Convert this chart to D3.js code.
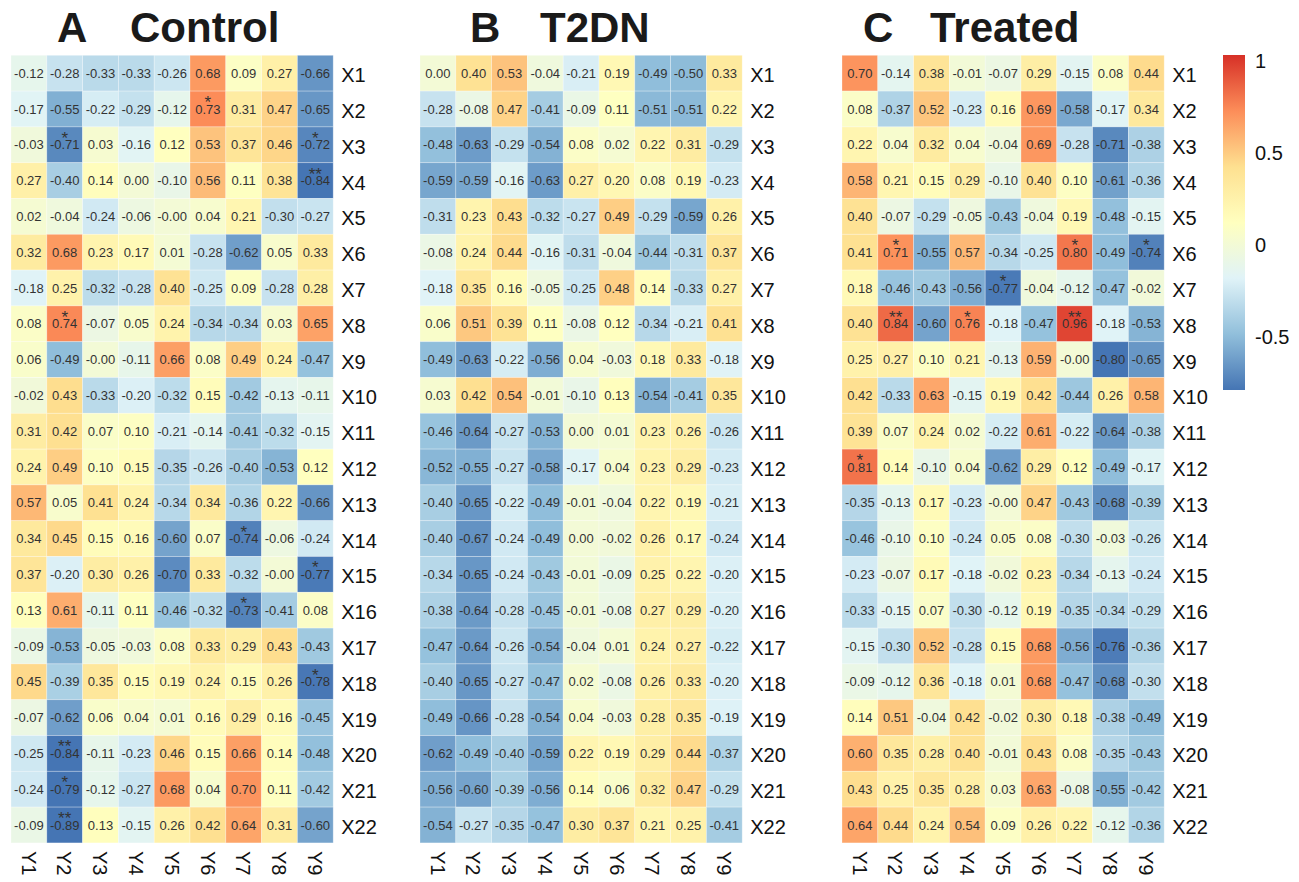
<!DOCTYPE html>
<html>
<head>
<meta charset="utf-8">
<script src="https://cdn.jsdelivr.net/npm/d3@7"></script>
<style>
  body { margin: 0; background: #fff; }
  text { font-family: "Liberation Sans", Arial, Helvetica, sans-serif; }
</style>
</head>
<body>
<svg id="chart" width="1299" height="882"></svg>
<script>
// Row and column labels of each correlation matrix
const rowLabels = ["X1","X2","X3","X4","X5","X6","X7","X8","X9","X10","X11","X12","X13","X14","X15","X16","X17","X18","X19","X20","X21","X22"];
const colLabels = ["Y1","Y2","Y3","Y4","Y5","Y6","Y7","Y8","Y9"];

// Correlation coefficients, one row per X variable (Y1..Y9)
const controlValues = [
  [-0.12,-0.28,-0.33,-0.33,-0.26, 0.68, 0.09, 0.27,-0.66],
  [-0.17,-0.55,-0.22,-0.29,-0.12, 0.73, 0.31, 0.47,-0.65],
  [-0.03,-0.71, 0.03,-0.16, 0.12, 0.53, 0.37, 0.46,-0.72],
  [ 0.27,-0.40, 0.14, 0.00,-0.10, 0.56, 0.11, 0.38,-0.84],
  [ 0.02,-0.04,-0.24,-0.06,-0.00, 0.04, 0.21,-0.30,-0.27],
  [ 0.32, 0.68, 0.23, 0.17, 0.01,-0.28,-0.62, 0.05, 0.33],
  [-0.18, 0.25,-0.32,-0.28, 0.40,-0.25, 0.09,-0.28, 0.28],
  [ 0.08, 0.74,-0.07, 0.05, 0.24,-0.34,-0.34, 0.03, 0.65],
  [ 0.06,-0.49,-0.00,-0.11, 0.66, 0.08, 0.49, 0.24,-0.47],
  [-0.02, 0.43,-0.33,-0.20,-0.32, 0.15,-0.42,-0.13,-0.11],
  [ 0.31, 0.42, 0.07, 0.10,-0.21,-0.14,-0.41,-0.32,-0.15],
  [ 0.24, 0.49, 0.10, 0.15,-0.35,-0.26,-0.40,-0.53, 0.12],
  [ 0.57, 0.05, 0.41, 0.24,-0.34, 0.34,-0.36, 0.22,-0.66],
  [ 0.34, 0.45, 0.15, 0.16,-0.60, 0.07,-0.74,-0.06,-0.24],
  [ 0.37,-0.20, 0.30, 0.26,-0.70, 0.33,-0.32,-0.00,-0.77],
  [ 0.13, 0.61,-0.11, 0.11,-0.46,-0.32,-0.73,-0.41, 0.08],
  [-0.09,-0.53,-0.05,-0.03, 0.08, 0.33, 0.29, 0.43,-0.43],
  [ 0.45,-0.39, 0.35, 0.15, 0.19, 0.24, 0.15, 0.26,-0.78],
  [-0.07,-0.62, 0.06, 0.04, 0.01, 0.16, 0.29, 0.16,-0.45],
  [-0.25,-0.84,-0.11,-0.23, 0.46, 0.15, 0.66, 0.14,-0.48],
  [-0.24,-0.79,-0.12,-0.27, 0.68, 0.04, 0.70, 0.11,-0.42],
  [-0.09,-0.89, 0.13,-0.15, 0.26, 0.42, 0.64, 0.31,-0.60]
];

const t2dnValues = [
  [ 0.00, 0.40, 0.53,-0.04,-0.21, 0.19,-0.49,-0.50, 0.33],
  [-0.28,-0.08, 0.47,-0.41,-0.09, 0.11,-0.51,-0.51, 0.22],
  [-0.48,-0.63,-0.29,-0.54, 0.08, 0.02, 0.22, 0.31,-0.29],
  [-0.59,-0.59,-0.16,-0.63, 0.27, 0.20, 0.08, 0.19,-0.23],
  [-0.31, 0.23, 0.43,-0.32,-0.27, 0.49,-0.29,-0.59, 0.26],
  [-0.08, 0.24, 0.44,-0.16,-0.31,-0.04,-0.44,-0.31, 0.37],
  [-0.18, 0.35, 0.16,-0.05,-0.25, 0.48, 0.14,-0.33, 0.27],
  [ 0.06, 0.51, 0.39, 0.11,-0.08, 0.12,-0.34,-0.21, 0.41],
  [-0.49,-0.63,-0.22,-0.56, 0.04,-0.03, 0.18, 0.33,-0.18],
  [ 0.03, 0.42, 0.54,-0.01,-0.10, 0.13,-0.54,-0.41, 0.35],
  [-0.46,-0.64,-0.27,-0.53, 0.00, 0.01, 0.23, 0.26,-0.26],
  [-0.52,-0.55,-0.27,-0.58,-0.17, 0.04, 0.23, 0.29,-0.23],
  [-0.40,-0.65,-0.22,-0.49,-0.01,-0.04, 0.22, 0.19,-0.21],
  [-0.40,-0.67,-0.24,-0.49, 0.00,-0.02, 0.26, 0.17,-0.24],
  [-0.34,-0.65,-0.24,-0.43,-0.01,-0.09, 0.25, 0.22,-0.20],
  [-0.38,-0.64,-0.28,-0.45,-0.01,-0.08, 0.27, 0.29,-0.20],
  [-0.47,-0.64,-0.26,-0.54,-0.04, 0.01, 0.24, 0.27,-0.22],
  [-0.40,-0.65,-0.27,-0.47, 0.02,-0.08, 0.26, 0.33,-0.20],
  [-0.49,-0.66,-0.28,-0.54, 0.04,-0.03, 0.28, 0.35,-0.19],
  [-0.62,-0.49,-0.40,-0.59, 0.22, 0.19, 0.29, 0.44,-0.37],
  [-0.56,-0.60,-0.39,-0.56, 0.14, 0.06, 0.32, 0.47,-0.29],
  [-0.54,-0.27,-0.35,-0.47, 0.30, 0.37, 0.21, 0.25,-0.41]
];

const treatedValues = [
  [ 0.70,-0.14, 0.38,-0.01,-0.07, 0.29,-0.15, 0.08, 0.44],
  [ 0.08,-0.37, 0.52,-0.23, 0.16, 0.69,-0.58,-0.17, 0.34],
  [ 0.22, 0.04, 0.32, 0.04,-0.04, 0.69,-0.28,-0.71,-0.38],
  [ 0.58, 0.21, 0.15, 0.29,-0.10, 0.40, 0.10,-0.61,-0.36],
  [ 0.40,-0.07,-0.29,-0.05,-0.43,-0.04, 0.19,-0.48,-0.15],
  [ 0.41, 0.71,-0.55, 0.57,-0.34,-0.25, 0.80,-0.49,-0.74],
  [ 0.18,-0.46,-0.43,-0.56,-0.77,-0.04,-0.12,-0.47,-0.02],
  [ 0.40, 0.84,-0.60, 0.76,-0.18,-0.47, 0.96,-0.18,-0.53],
  [ 0.25, 0.27, 0.10, 0.21,-0.13, 0.59,-0.00,-0.80,-0.65],
  [ 0.42,-0.33, 0.63,-0.15, 0.19, 0.42,-0.44, 0.26, 0.58],
  [ 0.39, 0.07, 0.24, 0.02,-0.22, 0.61,-0.22,-0.64,-0.38],
  [ 0.81, 0.14,-0.10, 0.04,-0.62, 0.29, 0.12,-0.49,-0.17],
  [-0.35,-0.13, 0.17,-0.23,-0.00, 0.47,-0.43,-0.68,-0.39],
  [-0.46,-0.10, 0.10,-0.24, 0.05, 0.08,-0.30,-0.03,-0.26],
  [-0.23,-0.07, 0.17,-0.18,-0.02, 0.23,-0.34,-0.13,-0.24],
  [-0.33,-0.15, 0.07,-0.30,-0.12, 0.19,-0.35,-0.34,-0.29],
  [-0.15,-0.30, 0.52,-0.28, 0.15, 0.68,-0.56,-0.76,-0.36],
  [-0.09,-0.12, 0.36,-0.18, 0.01, 0.68,-0.47,-0.68,-0.30],
  [ 0.14, 0.51,-0.04, 0.42,-0.02, 0.30, 0.18,-0.38,-0.49],
  [ 0.60, 0.35, 0.28, 0.40,-0.01, 0.43, 0.08,-0.35,-0.43],
  [ 0.43, 0.25, 0.35, 0.28, 0.03, 0.63,-0.08,-0.55,-0.42],
  [ 0.64, 0.44, 0.24, 0.54, 0.09, 0.26, 0.22,-0.12,-0.36]
];

// Significance marks: [row, column, mark]
const controlStars = [
  ["X2","Y6","*"], ["X3","Y2","*"], ["X3","Y9","*"], ["X4","Y9","**"],
  ["X8","Y2","*"], ["X14","Y7","*"], ["X15","Y9","*"], ["X16","Y7","*"],
  ["X18","Y9","*"], ["X20","Y2","**"], ["X21","Y2","*"], ["X22","Y2","**"]
];
const t2dnStars = [];
const treatedStars = [
  ["X6","Y2","*"], ["X6","Y7","*"], ["X6","Y9","*"], ["X7","Y5","*"],
  ["X8","Y2","**"], ["X8","Y4","*"], ["X8","Y7","**"], ["X12","Y1","*"]
];

// Colour bar limits and its tick labels
const colorLimits = [-0.79, 1.03];
const colorbarTicks = [1, 0.5, 0, -0.5];
const palette = ["#4575b4","#91bfdb","#e0f3f8","#ffffbf","#fee090","#fc8d59","#d73027"];

const panels = [
  { letter: "A", name: "Control", values: controlValues, stars: controlStars, left: 11,  letterX: 57,  nameX: 130 },
  { letter: "B", name: "T2DN",    values: t2dnValues,    stars: t2dnStars,    left: 420, letterX: 470, nameX: 540 },
  { letter: "C", name: "Treated", values: treatedValues, stars: treatedStars, left: 842, letterX: 863, nameX: 930 }
];

const svg = d3.select("#chart");
const cellSize = 35.8;
const gridTop = 55.3;

const color = d3.scaleLinear()
  .domain(palette.map((_, i) => colorLimits[0] + i * (colorLimits[1] - colorLimits[0]) / (palette.length - 1)))
  .range(palette)
  .interpolate(d3.interpolateRgb)
  .clamp(true);

const fmt = v => ((v < 0 || Object.is(v, -0)) ? "-" : "") + Math.abs(v).toFixed(2);

const yScale = d3.scaleBand().domain(rowLabels).range([gridTop, gridTop + cellSize * rowLabels.length]);
const gridBottom = gridTop + cellSize * rowLabels.length;

panels.forEach(p => {
  const xScale = d3.scaleBand().domain(colLabels).range([p.left, p.left + cellSize * colLabels.length]);
  const g = svg.append("g");

  const data = [];
  p.values.forEach((row, i) => row.forEach((v, j) => data.push({ r: rowLabels[i], c: colLabels[j], v })));

  g.selectAll("rect.cell").data(data).join("rect")
    .attr("class", "cell")
    .attr("x", d => xScale(d.c))
    .attr("y", d => yScale(d.r))
    .attr("width", xScale.bandwidth())
    .attr("height", yScale.bandwidth())
    .attr("fill", d => color(d.v))
    .attr("stroke", "#ffffff")
    .attr("stroke-opacity", 0.35)
    .attr("stroke-width", 0.8);

  g.selectAll("text.val").data(data).join("text")
    .attr("class", "val")
    .attr("x", d => xScale(d.c) + xScale.bandwidth() / 2)
    .attr("y", d => yScale(d.r) + yScale.bandwidth() / 2)
    .attr("dy", "0.36em")
    .attr("text-anchor", "middle")
    .attr("font-size", 13)
    .attr("fill", "#333")
    .text(d => fmt(d.v));

  g.selectAll("text.star").data(p.stars).join("text")
    .attr("class", "star")
    .attr("x", d => xScale(d[1]) + xScale.bandwidth() / 2)
    .attr("y", d => yScale(d[0]) + yScale.bandwidth() / 2 - 1)
    .attr("text-anchor", "middle")
    .attr("font-size", 17)
    .attr("fill", "#333")
    .text(d => d[2]);

  // Row labels on the right
  g.selectAll("text.row").data(rowLabels).join("text")
    .attr("class", "row")
    .attr("x", p.left + cellSize * colLabels.length + 8)
    .attr("y", d => yScale(d) + yScale.bandwidth() / 2)
    .attr("dy", "0.45em")
    .attr("font-size", 20)
    .attr("fill", "#111")
    .text(d => d);

  // Column labels, rotated
  g.selectAll("text.col").data(colLabels).join("text")
    .attr("class", "col")
    .attr("transform", d => `translate(${xScale(d) + xScale.bandwidth() / 2},${gridBottom + 8}) rotate(90)`)
    .attr("dy", "0.36em")
    .attr("font-size", 20)
    .attr("fill", "#111")
    .text(d => d);

  // Panel title
  g.append("text").attr("x", p.letterX).attr("y", 42)
    .attr("font-size", 42).attr("font-weight", "bold").attr("fill", "#1a1a1a").text(p.letter);
  g.append("text").attr("x", p.nameX).attr("y", 42)
    .attr("font-size", 42).attr("font-weight", "bold").attr("fill", "#1a1a1a").text(p.name);
});

// Colour bar
const barX = 1223, barW = 22;
const barY = d3.scaleLinear().domain(colorLimits).range([390, 55]);
const grad = svg.append("defs").append("linearGradient")
  .attr("id", "cbar").attr("x1", 0).attr("y1", 1).attr("x2", 0).attr("y2", 0);
grad.selectAll("stop").data(color.domain()).join("stop")
  .attr("offset", d => (d - colorLimits[0]) / (colorLimits[1] - colorLimits[0]))
  .attr("stop-color", d => color(d));
svg.append("rect")
  .attr("x", barX).attr("y", barY(colorLimits[1]))
  .attr("width", barW).attr("height", barY(colorLimits[0]) - barY(colorLimits[1]))
  .attr("fill", "url(#cbar)");
svg.selectAll("text.tick").data(colorbarTicks).join("text")
  .attr("class", "tick")
  .attr("x", barX + barW + 10)
  .attr("y", d => barY(d))
  .attr("dy", "0.36em")
  .attr("font-size", 20)
  .attr("fill", "#111")
  .text(d => d < 0 ? "-" + Math.abs(d) : String(d));
</script>
</body>
</html>
